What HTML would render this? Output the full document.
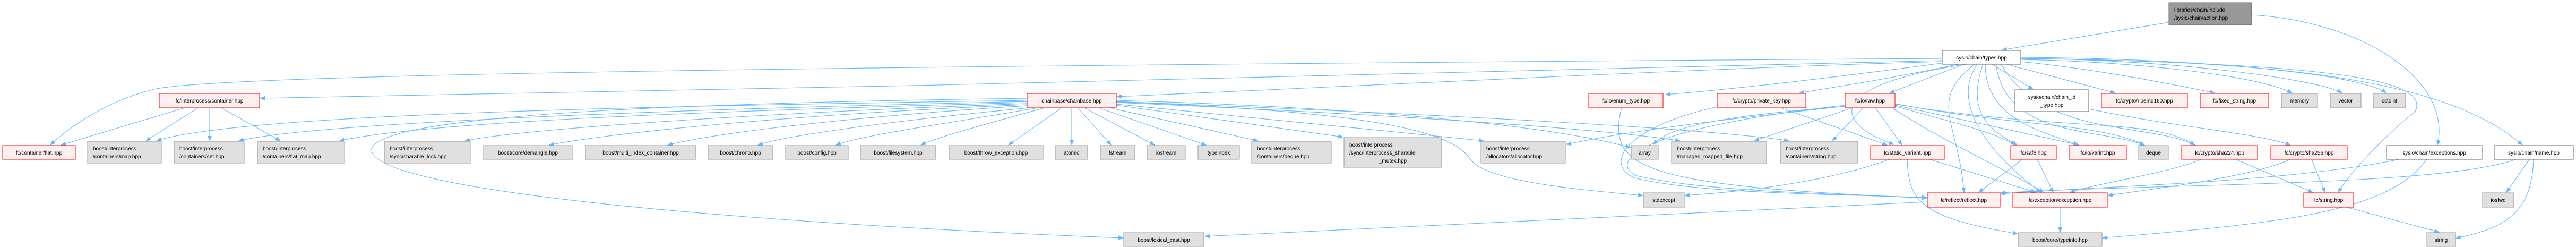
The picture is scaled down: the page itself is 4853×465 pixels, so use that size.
<!DOCTYPE html>
<html><head><meta charset="utf-8"><style>
html,body{margin:0;padding:0;background:#fff;}
svg{display:block;}
text{font-family:"Liberation Sans",sans-serif;font-size:10px;fill:#000;}
.e{fill:none;stroke:#63b8ff;stroke-width:1.1;marker-end:url(#a);}
.r{fill:#fff0f0;stroke:#ff0000;stroke-width:1;}
.g{fill:#e0e0e0;stroke:#999;stroke-width:1;}
.w{fill:#fff;stroke:#666;stroke-width:1;}
.d{fill:#999;stroke:#666;stroke-width:1;}
</style></head><body>
<svg width="4853" height="465" viewBox="0 0 4853 465" xmlns="http://www.w3.org/2000/svg">
<defs><marker id="a" markerWidth="10" markerHeight="8" refX="9" refY="4" orient="auto" markerUnits="userSpaceOnUse"><path d="M0,0 L10,4 L0,8 z" fill="#63b8ff"/></marker></defs>
<g>
<path class="e" d="M4086 42 L3772 94"/>
<path class="e" d="M4242 28 C4450 40 4620 150 4592 273"/>
<path class="e" d="M3659 110 C1500 125 420 140 290 168 C200 190 130 240 95 273"/>
<path class="e" d="M3659 114 C3000 130 1500 170 490 185"/>
<path class="e" d="M3659 116 C3300 125 2600 160 2104 182"/>
<path class="e" d="M3665 118 C3500 140 3300 165 3138 178"/>
<path class="e" d="M3690 121 C3550 150 3450 165 3390 175"/>
<path class="e" d="M3700 121 L3560 175"/>
<path class="e" d="M3705 121 C3440 160 3450 230 3568 272"/>
<path class="e" d="M3720 121 C3630 190 3690 230 3700 362"/>
<path class="e" d="M3725 121 C3670 200 3760 300 3845 362"/>
<path class="e" d="M3736 121 C3700 220 3760 250 3800 273"/>
<path class="e" d="M3740 121 C3740 230 3860 250 3915 273"/>
<path class="e" d="M3753 121 L3830 168"/>
<path class="e" d="M3780 121 L3985 175"/>
<path class="e" d="M3807 116 C3950 130 4100 160 4172 175"/>
<path class="e" d="M3807 112 C4000 115 4250 140 4318 175"/>
<path class="e" d="M3807 110 C4100 112 4370 150 4412 175"/>
<path class="e" d="M3807 108 C4150 110 4450 140 4495 175"/>
<path class="e" d="M3807 110 C4250 115 4600 140 4752 273"/>
<path class="e" d="M3760 121 C3780 260 3950 240 4040 273"/>
<path class="e" d="M3770 121 C3850 260 4050 230 4135 273"/>
<path class="e" d="M3807 110 C4400 120 4580 150 4550 210 C4500 250 4430 320 4405 362"/>
<path class="e" d="M3935 205 C4100 240 4250 250 4315 273"/>
<path class="e" d="M348 203 L115 273"/>
<path class="e" d="M373 203 L275 265"/>
<path class="e" d="M395 203 L395 265"/>
<path class="e" d="M417 203 L528 265"/>
<path class="e" d="M1935 189 C1200 200 450 215 295 265"/>
<path class="e" d="M1935 191 C1300 205 600 230 450 265"/>
<path class="e" d="M1935 193 C1300 210 800 230 640 265"/>
<path class="e" d="M1935 195 C1500 210 1000 240 876 265"/>
<path class="e" d="M1935 197 C1500 215 1150 250 1035 273"/>
<path class="e" d="M1935 199 C1600 220 1350 250 1258 273"/>
<path class="e" d="M1940 203 C1700 225 1480 255 1428 273"/>
<path class="e" d="M1955 203 C1800 230 1620 255 1575 273"/>
<path class="e" d="M1968 203 C1870 230 1760 260 1735 273"/>
<path class="e" d="M2000 203 L1900 273"/>
<path class="e" d="M2019 203 L2019 273"/>
<path class="e" d="M2031 203 L2093 273"/>
<path class="e" d="M2043 203 L2175 273"/>
<path class="e" d="M2070 203 L2272 273"/>
<path class="e" d="M2090 203 L2370 265"/>
<path class="e" d="M2103 198 L2530 258"/>
<path class="e" d="M2103 196 L2795 265"/>
<path class="e" d="M2103 193 C2600 215 3000 240 3165 265"/>
<path class="e" d="M2103 191 C2700 215 3200 240 3370 265"/>
<path class="e" d="M2103 189 C2500 200 2900 230 3072 278"/>
<path class="e" d="M2103 192 C2600 210 2740 250 2770 300 C2800 340 2950 355 3095 368"/>
<path class="e" d="M1935 185 C1200 195 720 220 700 280 C690 360 1400 420 2116 448"/>
<path class="e" d="M3631 380 L2270 445"/>
<path class="e" d="M3476 200 C3200 230 3050 250 2951 272"/>
<path class="e" d="M3476 200 C3300 215 3150 230 3115 272"/>
<path class="e" d="M3490 203 L3305 265"/>
<path class="e" d="M3510 203 L3452 265"/>
<path class="e" d="M3533 203 L3583 273"/>
<path class="e" d="M3570 200 C3680 230 3760 250 3797 273"/>
<path class="e" d="M3570 198 L3917 273"/>
<path class="e" d="M3565 203 C3650 260 3780 320 3850 362"/>
<path class="e" d="M3570 195 C3800 240 3950 230 4040 273"/>
<path class="e" d="M3570 196 C3900 250 4050 220 4135 273"/>
<path class="e" d="M3476 198 C3100 240 3030 300 3080 330 C3200 360 3450 365 3630 372"/>
<path class="e" d="M3235 201 C3060 240 3020 310 3080 335 C3200 365 3450 365 3630 372"/>
<path class="e" d="M3355 203 L3555 273"/>
<path class="e" d="M3055 203 C3025 320 3100 350 3630 373"/>
<path class="e" d="M3560 300 C3450 340 3300 360 3174 368"/>
<path class="e" d="M3635 300 L3835 362"/>
<path class="e" d="M3593 300 C3595 380 3620 410 3801 440"/>
<path class="e" d="M3810 300 L3728 362"/>
<path class="e" d="M3838 300 L3868 362"/>
<path class="e" d="M4147 300 C4090 325 3950 345 3900 362"/>
<path class="e" d="M4212 300 L4357 362"/>
<path class="e" d="M4315 300 C4250 330 4100 350 3971 368"/>
<path class="e" d="M4355 300 L4380 362"/>
<path class="e" d="M4520 300 C4300 345 3950 350 3769 365"/>
<path class="e" d="M4572 300 C4500 400 4300 420 3961 448"/>
<path class="e" d="M4740 300 C4600 350 4100 345 3769 363"/>
<path class="e" d="M4765 300 L4722 362"/>
<path class="e" d="M4773 300 C4770 400 4720 430 4627 448"/>
<path class="e" d="M4420 390 L4595 437"/>
<path class="e" d="M3881 390 L3881 437"/>
</g>
<g>
<rect class="d" x="4086" y="5" width="156" height="42"/>
<text x="4096" y="22">libraries/chain/include</text><text x="4096" y="37">/sysio/chain/action.hpp</text>
<rect class="w" x="3659" y="95" width="148" height="26"/><text x="3733" y="112" text-anchor="middle">sysio/chain/types.hpp</text>
<rect class="r" x="300" y="176" width="189" height="27"/><text x="394.5" y="193" text-anchor="middle">fc/interprocess/container.hpp</text>
<rect class="r" x="1935" y="176" width="168" height="27"/><text x="2019" y="193" text-anchor="middle">chainbase/chainbase.hpp</text>
<rect class="r" x="2993" y="176" width="140" height="27"/><text x="3063" y="193" text-anchor="middle">fc/io/enum_type.hpp</text>
<rect class="r" x="3235" y="176" width="167" height="27"/><text x="3318.5" y="193" text-anchor="middle">fc/crypto/private_key.hpp</text>
<rect class="r" x="3476" y="176" width="94" height="27"/><text x="3523" y="193" text-anchor="middle">fc/io/raw.hpp</text>
<rect class="w" x="3796" y="169" width="139" height="41"/><text x="3865.5" y="186" text-anchor="middle">sysio/chain/chain_id</text><text x="3865.5" y="201" text-anchor="middle">_type.hpp</text>
<rect class="r" x="3959" y="176" width="162" height="27"/><text x="4040" y="193" text-anchor="middle">fc/crypto/ripemd160.hpp</text>
<rect class="r" x="4145" y="176" width="129" height="27"/><text x="4209.5" y="193" text-anchor="middle">fc/fixed_string.hpp</text>
<rect class="g" x="4298" y="176" width="68" height="27"/><text x="4332" y="193" text-anchor="middle">memory</text>
<rect class="g" x="4390" y="176" width="58" height="27"/><text x="4419" y="193" text-anchor="middle">vector</text>
<rect class="g" x="4471" y="176" width="61" height="27"/><text x="4501.5" y="193" text-anchor="middle">cstdint</text>

<rect class="r" x="5" y="274" width="137" height="26"/><text x="73.5" y="291" text-anchor="middle">fc/container/flat.hpp</text>
<rect class="g" x="165" y="266" width="139" height="41"/><text x="175" y="283">boost/interprocess</text><text x="175" y="298">/containers/map.hpp</text>
<rect class="g" x="328" y="266" width="132" height="41"/><text x="338" y="283">boost/interprocess</text><text x="338" y="298">/containers/set.hpp</text>
<rect class="g" x="485" y="266" width="164" height="41"/><text x="495" y="283">boost/interprocess</text><text x="495" y="298">/containers/flat_map.hpp</text>
<rect class="g" x="724" y="266" width="162" height="41"/><text x="734" y="283">boost/interprocess</text><text x="734" y="298">/sync/sharable_lock.hpp</text>
<rect class="g" x="911" y="274" width="167" height="26"/><text x="994.5" y="291" text-anchor="middle">boost/core/demangle.hpp</text>
<rect class="g" x="1103" y="274" width="208" height="26"/><text x="1207" y="291" text-anchor="middle">boost/multi_index_container.hpp</text>
<rect class="g" x="1334" y="274" width="122" height="26"/><text x="1395" y="291" text-anchor="middle">boost/chrono.hpp</text>
<rect class="g" x="1480" y="274" width="118" height="26"/><text x="1539" y="291" text-anchor="middle">boost/config.hpp</text>
<rect class="g" x="1621" y="274" width="142" height="26"/><text x="1692" y="291" text-anchor="middle">boost/filesystem.hpp</text>
<rect class="g" x="1788" y="274" width="177" height="26"/><text x="1876.5" y="291" text-anchor="middle">boost/throw_exception.hpp</text>
<rect class="g" x="1988" y="274" width="61" height="26"/><text x="2018.5" y="291" text-anchor="middle">atomic</text>
<rect class="g" x="2073" y="274" width="65" height="26"/><text x="2105.5" y="291" text-anchor="middle">fstream</text>
<rect class="g" x="2161" y="274" width="72" height="26"/><text x="2197" y="291" text-anchor="middle">iostream</text>
<rect class="g" x="2257" y="274" width="78" height="26"/><text x="2296" y="291" text-anchor="middle">typeindex</text>
<rect class="g" x="2358" y="266" width="150" height="41"/><text x="2368" y="283">boost/interprocess</text><text x="2368" y="298">/containers/deque.hpp</text>
<rect class="g" x="2532" y="259" width="184" height="56"/><text x="2542" y="276">boost/interprocess</text><text x="2542" y="291">/sync/interprocess_sharable</text><text x="2624" y="306" text-anchor="middle">_mutex.hpp</text>
<rect class="g" x="2790" y="266" width="159" height="41"/><text x="2800" y="283">boost/interprocess</text><text x="2800" y="298">/allocators/allocator.hpp</text>
<rect class="g" x="3073" y="274" width="51" height="26"/><text x="3098.5" y="291" text-anchor="middle">array</text>
<rect class="g" x="3149" y="266" width="179" height="41"/><text x="3159" y="283">boost/interprocess</text><text x="3159" y="298">/managed_mapped_file.hpp</text>
<rect class="g" x="3354" y="266" width="146" height="41"/><text x="3364" y="283">boost/interprocess</text><text x="3364" y="298">/containers/string.hpp</text>
<rect class="r" x="3524" y="274" width="139" height="26"/><text x="3593.5" y="291" text-anchor="middle">fc/static_variant.hpp</text>
<rect class="r" x="3788" y="274" width="86" height="26"/><text x="3831" y="291" text-anchor="middle">fc/safe.hpp</text>
<rect class="r" x="3898" y="274" width="108" height="26"/><text x="3952" y="291" text-anchor="middle">fc/io/varint.hpp</text>
<rect class="g" x="4029" y="274" width="56" height="26"/><text x="4057" y="291" text-anchor="middle">deque</text>
<rect class="r" x="4110" y="274" width="143" height="26"/><text x="4181.5" y="291" text-anchor="middle">fc/crypto/sha224.hpp</text>
<rect class="r" x="4278" y="274" width="144" height="26"/><text x="4350" y="291" text-anchor="middle">fc/crypto/sha256.hpp</text>
<rect class="w" x="4496" y="274" width="180" height="26"/><text x="4586" y="291" text-anchor="middle">sysio/chain/exceptions.hpp</text>
<rect class="w" x="4699" y="274" width="149" height="26"/><text x="4773.5" y="291" text-anchor="middle">sysio/chain/name.hpp</text>

<rect class="g" x="3096" y="363" width="77" height="27"/><text x="3134.5" y="380" text-anchor="middle">stdexcept</text>
<rect class="r" x="3631" y="363" width="137" height="27"/><text x="3699.5" y="380" text-anchor="middle">fc/reflect/reflect.hpp</text>
<rect class="r" x="3792" y="363" width="178" height="27"/><text x="3881" y="380" text-anchor="middle">fc/exception/exception.hpp</text>
<rect class="r" x="4340" y="363" width="94" height="27"/><text x="4387" y="380" text-anchor="middle">fc/string.hpp</text>
<rect class="g" x="4677" y="363" width="59" height="27"/><text x="4706.5" y="380" text-anchor="middle">iosfwd</text>

<rect class="g" x="2117" y="438" width="151" height="26"/><text x="2192.5" y="455" text-anchor="middle">boost/lexical_cast.hpp</text>
<rect class="g" x="3802" y="438" width="158" height="26"/><text x="3881" y="455" text-anchor="middle">boost/core/typeinfo.hpp</text>
<rect class="g" x="4572" y="438" width="54" height="26"/><text x="4599" y="455" text-anchor="middle">string</text>
</g>
</svg>
</body></html>
